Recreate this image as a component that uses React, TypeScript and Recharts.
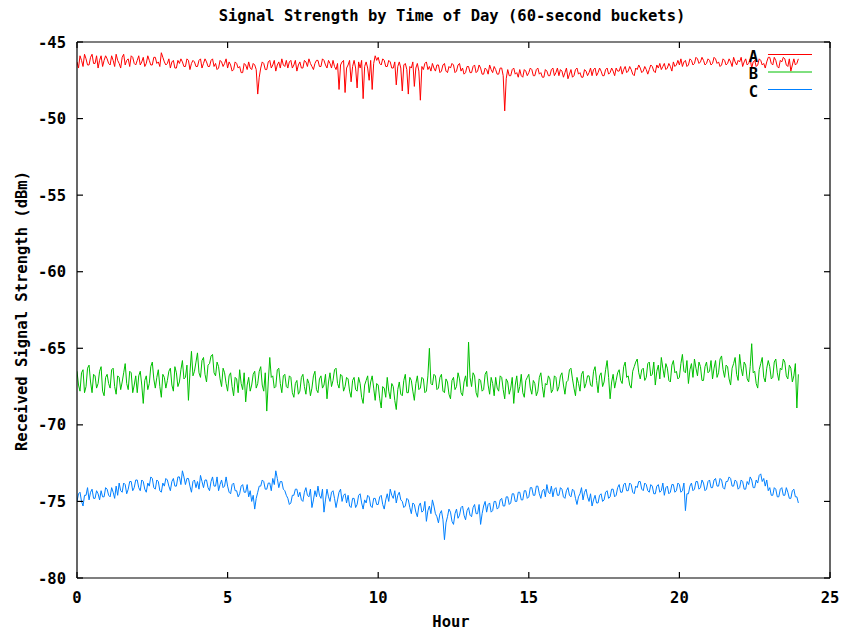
import { LineChart, Line, XAxis, YAxis, Legend } from 'recharts';

// one reading every 0.05 h (3 min)
const STEP_HOURS = 0.05;

const SERIES_A = [
  -46.3, -46.7, -45.9, -46.2, -46.6, -45.8, -46.1, -46.5, -46.5, -46.0, -45.8, -46.4, -46.4, -45.9, -46.7, -46.2, -45.9, -46.6, -46.2, -45.9,
  -46.1, -46.4, -46.5, -45.9, -46.2, -46.6, -45.8, -46.2, -46.4, -46.7, -46.0, -45.8, -46.5, -46.2, -46.1, -46.6, -45.9, -46.0, -46.4, -46.5,
  -46.2, -45.9, -46.5, -46.3, -46.0, -46.6, -46.4, -45.9, -46.2, -46.5, -46.5, -46.0, -46.0, -46.4, -46.3, -46.6, -45.7, -46.0, -46.3, -46.5,
  -46.4, -46.1, -46.7, -46.3, -46.2, -46.7, -46.7, -46.2, -46.4, -46.1, -46.3, -46.6, -46.6, -46.1, -46.2, -46.8, -46.4, -46.2, -46.3, -46.6,
  -46.6, -46.2, -46.1, -46.7, -46.4, -46.1, -46.3, -46.6, -46.6, -46.2, -46.1, -46.6, -46.4, -46.8, -46.7, -46.2, -46.3, -46.6, -46.4, -46.1,
  -46.7, -46.3, -46.5, -46.9, -46.8, -46.3, -46.4, -46.7, -46.6, -47.0, -47.0, -46.4, -46.5, -46.8, -46.3, -46.7, -46.8, -46.4, -46.5, -46.8,
  -48.4, -47.3, -46.7, -46.3, -46.4, -46.8, -46.8, -46.3, -46.2, -46.7, -46.5, -46.2, -46.9, -46.5, -46.3, -46.7, -46.1, -46.5, -46.6, -46.2,
  -46.7, -46.3, -46.2, -46.7, -46.5, -46.2, -46.9, -46.5, -46.3, -46.7, -46.7, -46.2, -46.3, -46.6, -46.1, -46.4, -46.6, -46.8, -46.4, -46.2,
  -46.2, -46.6, -46.6, -46.1, -46.2, -46.5, -46.7, -46.2, -46.4, -46.7, -46.2, -46.6, -46.8, -46.4, -48.1, -46.5, -46.3, -46.2, -48.3, -46.7,
  -46.5, -46.2, -47.6, -46.6, -46.2, -46.7, -48.0, -46.3, -46.7, -46.2, -48.7, -46.6, -46.3, -46.7, -47.5, -46.2, -48.1, -46.4, -45.9, -46.2,
  -46.0, -46.4, -46.5, -46.1, -46.2, -46.6, -46.6, -46.2, -46.3, -46.7, -46.7, -46.3, -47.8, -46.6, -46.3, -46.7, -48.2, -46.5, -46.4, -46.8,
  -48.4, -46.6, -46.7, -46.3, -47.9, -46.7, -46.4, -46.9, -48.8, -46.6, -46.8, -46.4, -46.3, -46.8, -46.6, -46.9, -46.4, -46.7, -46.9, -46.5,
  -46.5, -47.0, -46.9, -46.5, -46.4, -46.9, -47.0, -46.6, -46.7, -46.4, -46.5, -47.0, -46.9, -46.5, -46.4, -46.9, -46.7, -47.1, -47.0, -46.6,
  -46.6, -47.0, -47.0, -46.6, -46.5, -47.0, -46.9, -46.5, -46.7, -47.1, -47.1, -46.7, -46.8, -47.1, -46.5, -46.8, -47.0, -46.6, -46.8, -47.1,
  -47.1, -46.7, -46.7, -47.2, -49.5, -47.4, -46.8, -47.2, -47.2, -46.8, -46.7, -47.1, -47.0, -47.3, -46.8, -47.2, -47.3, -46.8, -46.9, -47.2,
  -47.0, -46.7, -46.8, -47.2, -47.2, -46.8, -46.7, -47.1, -47.0, -47.3, -47.3, -46.8, -46.9, -47.2, -47.2, -46.8, -46.7, -47.2, -47.0, -46.7,
  -47.2, -46.8, -46.9, -47.3, -47.0, -46.7, -47.4, -47.1, -46.8, -47.3, -47.2, -46.8, -46.7, -47.1, -47.0, -47.3, -47.3, -46.8, -46.9, -47.2,
  -47.0, -46.7, -47.2, -46.8, -46.7, -47.2, -47.0, -46.7, -46.9, -47.2, -47.2, -46.8, -46.7, -47.1, -47.0, -46.7, -46.9, -47.2, -46.7, -46.9,
  -46.9, -46.6, -47.1, -46.8, -46.6, -47.0, -46.9, -46.6, -46.8, -47.1, -47.2, -46.7, -46.8, -46.5, -46.7, -47.0, -46.9, -46.6, -46.8, -47.1,
  -46.8, -46.5, -46.6, -46.9, -47.0, -46.5, -46.7, -46.4, -46.8, -46.6, -46.4, -46.8, -46.7, -46.4, -46.6, -46.9, -46.3, -46.6, -46.5, -46.2,
  -46.5, -46.1, -46.6, -46.3, -46.2, -46.6, -46.5, -46.1, -46.2, -46.5, -46.4, -46.0, -46.1, -46.4, -46.3, -46.0, -46.2, -46.5, -46.4, -46.1,
  -46.2, -46.5, -46.4, -46.0, -46.1, -46.4, -46.3, -46.6, -46.5, -46.1, -46.2, -46.5, -46.4, -46.1, -46.3, -46.6, -46.0, -46.3, -46.5, -46.2,
  -46.3, -46.0, -46.6, -46.3, -46.1, -46.5, -46.4, -46.1, -46.7, -46.3, -46.2, -46.6, -46.5, -46.1, -46.2, -46.5, -46.4, -46.7, -46.3, -46.0,
  -46.0, -46.4, -46.5, -46.0, -46.2, -46.6, -46.7, -46.2, -46.3, -46.0, -46.1, -46.5, -46.6, -46.1, -46.9, -46.5, -46.1, -46.5, -46.4, -46.1,
];

const SERIES_B = [
  -66.5, -67.4, -67.8, -66.6, -66.4, -67.9, -67.5, -66.3, -66.1, -67.2, -67.9, -66.7, -66.8, -67.6, -67.3, -66.5, -66.2, -67.8, -68.1, -66.9,
  -66.7, -67.3, -67.6, -66.4, -66.3, -67.5, -68.0, -66.8, -66.9, -67.7, -67.2, -66.6, -66.0, -67.3, -67.7, -66.5, -66.6, -67.9, -67.4, -66.8,
  -67.9, -66.8, -66.5, -67.4, -68.6, -67.1, -66.8, -67.7, -67.3, -66.2, -65.9, -67.0, -67.6, -66.9, -66.4, -67.5, -68.2, -66.7, -66.9, -67.6,
  -67.1, -66.5, -66.3, -67.4, -67.8, -66.2, -66.6, -67.5, -67.2, -66.4, -65.8, -67.0, -66.9, -66.1, -68.4, -66.6, -65.2, -66.8, -66.5, -65.9,
  -65.3, -66.6, -66.9, -65.8, -65.6, -66.7, -67.2, -66.1, -66.0, -65.5, -65.4, -66.6, -66.8, -65.9, -66.2, -67.0, -67.5, -66.3, -66.6, -67.3,
  -67.8, -66.8, -66.6, -67.5, -68.1, -66.9, -67.0, -67.9, -66.4, -67.3, -67.7, -66.6, -68.5, -67.4, -66.9, -67.8, -67.4, -66.7, -66.5, -67.6,
  -67.3, -66.5, -66.2, -67.4, -67.8, -66.6, -69.1, -67.2, -65.6, -66.9, -66.8, -67.6, -67.5, -66.4, -66.3, -67.3, -67.9, -66.8, -66.7, -67.5,
  -67.6, -66.8, -66.9, -67.9, -68.2, -67.3, -67.1, -68.0, -67.8, -66.9, -66.7, -67.5, -68.0, -67.0, -67.3, -68.1, -67.6, -66.8, -66.5, -67.7,
  -67.9, -67.0, -66.8, -67.6, -67.4, -66.7, -68.3, -67.2, -66.6, -67.5, -67.1, -66.4, -66.3, -67.3, -67.6, -66.7, -66.8, -67.8, -67.5, -66.9,
  -67.0, -67.8, -68.2, -67.1, -66.9, -67.7, -67.8, -66.9, -67.3, -68.2, -68.6, -67.4, -67.1, -66.8, -67.9, -67.2, -66.8, -67.6, -68.4, -67.3,
  -67.4, -68.3, -68.9, -67.5, -67.6, -68.2, -66.9, -67.8, -68.3, -67.3, -67.5, -68.4, -69.0, -67.7, -67.2, -68.0, -68.1, -67.1, -66.7, -67.9,
  -67.9, -66.9, -67.1, -67.8, -68.4, -67.3, -66.8, -67.7, -67.6, -66.9, -67.0, -67.9, -67.8, -66.8, -65.0, -67.3, -67.4, -66.7, -66.8, -67.7,
  -67.6, -66.9, -66.7, -67.8, -67.9, -67.0, -67.2, -68.0, -68.3, -67.1, -66.9, -67.7, -67.5, -66.6, -67.0, -67.9, -68.1, -67.2, -66.8, -67.5,
  -64.6, -66.9, -67.5, -66.6, -66.8, -67.9, -68.2, -67.0, -67.1, -67.8, -67.7, -66.7, -66.5, -67.4, -68.0, -66.9, -67.3, -68.1, -66.9, -67.6,
  -67.8, -66.8, -66.9, -67.7, -68.3, -67.0, -67.2, -68.0, -67.6, -66.9, -68.6, -67.4, -66.8, -67.9, -67.5, -66.7, -67.9, -68.2, -67.1, -66.9,
  -66.7, -67.6, -68.0, -67.1, -67.3, -68.1, -67.8, -66.9, -66.6, -67.5, -68.2, -67.3, -67.4, -66.8, -67.0, -67.9, -67.7, -66.8, -66.9, -67.8,
  -67.5, -66.8, -66.6, -67.4, -68.0, -67.2, -67.1, -66.4, -66.3, -67.0, -67.6, -68.1, -66.9, -67.3, -67.8, -66.7, -66.5, -67.6, -67.3, -66.8,
  -66.8, -67.4, -67.5, -66.5, -66.2, -67.1, -67.9, -66.8, -66.6, -67.5, -67.2, -66.4, -65.8, -66.9, -68.3, -67.2, -66.7, -67.6, -67.1, -66.6,
  -66.4, -67.1, -67.3, -66.2, -65.9, -66.9, -66.8, -67.4, -67.6, -66.5, -66.2, -65.9, -65.7, -66.6, -67.0, -66.4, -66.3, -67.1, -66.9, -66.0,
  -65.9, -66.8, -66.7, -65.9, -67.4, -66.5, -66.1, -67.0, -65.6, -66.3, -66.9, -66.0, -66.3, -67.1, -67.2, -66.1, -65.8, -66.6, -66.5, -67.0,
  -66.9, -66.0, -65.4, -66.5, -66.6, -65.8, -67.3, -66.4, -66.0, -66.9, -65.7, -66.3, -66.8, -65.9, -66.2, -67.1, -67.1, -66.2, -65.9, -66.6,
  -66.5, -65.8, -67.0, -66.3, -65.8, -66.9, -66.6, -65.7, -65.5, -66.4, -66.9, -66.1, -66.2, -67.0, -67.4, -66.3, -66.0, -65.6, -66.7, -67.1,
  -65.4, -66.3, -66.8, -65.9, -66.1, -67.0, -67.2, -66.2, -64.7, -66.6, -66.5, -67.3, -67.6, -66.4, -66.0, -65.6, -66.9, -67.2, -66.3, -65.8,
  -66.2, -67.0, -66.9, -65.9, -65.7, -66.6, -67.1, -66.3, -66.4, -65.7, -65.9, -66.8, -67.0, -66.1, -66.3, -67.2, -66.8, -66.0, -68.9, -66.7,
];

const SERIES_C = [
  -75.0, -74.5, -74.4, -75.0, -75.3, -74.6, -74.6, -74.1, -74.9, -74.4, -74.2, -74.8, -74.8, -74.3, -74.5, -74.9, -74.3, -74.7, -74.7, -74.1,
  -74.2, -74.6, -74.7, -74.1, -74.4, -74.8, -74.0, -74.6, -73.8, -74.3, -74.4, -73.8, -73.9, -74.5, -74.2, -73.7, -73.7, -74.3, -74.1, -73.6,
  -73.6, -74.1, -74.3, -73.6, -73.7, -74.2, -74.4, -73.8, -74.0, -73.4, -73.5, -74.1, -74.2, -73.6, -73.7, -74.3, -74.4, -73.8, -74.0, -73.5,
  -73.6, -74.0, -74.3, -73.7, -73.5, -74.0, -74.0, -73.4, -73.4, -73.9, -73.0, -73.4, -73.9, -73.5, -73.5, -74.0, -74.4, -73.7, -73.6, -74.1,
  -73.7, -74.2, -73.3, -73.7, -74.1, -73.6, -73.6, -74.1, -74.3, -73.7, -73.4, -74.0, -74.0, -73.4, -74.3, -73.9, -73.6, -74.1, -74.0, -73.4,
  -74.0, -74.4, -74.5, -73.9, -73.8, -74.3, -74.3, -74.7, -74.5, -74.0, -73.9, -74.4, -74.4, -73.9, -74.7, -74.3, -75.0, -74.6, -75.5, -74.8,
  -74.4, -74.0, -74.0, -73.6, -73.7, -74.2, -74.2, -73.8, -73.8, -74.3, -73.5, -73.9, -73.0, -73.5, -74.1, -73.7, -73.7, -74.2, -74.3, -74.6,
  -74.8, -75.2, -75.1, -74.6, -74.6, -74.2, -74.2, -74.7, -74.4, -74.9, -75.0, -74.4, -74.1, -74.6, -74.7, -74.2, -75.4, -74.9, -74.3, -74.7,
  -74.0, -74.6, -74.8, -74.2, -75.7, -74.9, -74.2, -74.7, -75.0, -74.4, -74.3, -74.8, -75.4, -74.9, -74.4, -74.2, -75.0, -74.6, -74.5, -75.1,
  -74.6, -75.3, -75.4, -74.8, -74.8, -75.4, -75.2, -74.6, -74.5, -75.1, -75.5, -74.9, -75.1, -74.6, -74.7, -75.3, -75.4, -74.8, -74.8, -75.2,
  -75.2, -74.7, -74.6, -75.2, -75.5, -74.9, -74.5, -75.0, -74.2, -74.6, -74.8, -74.3, -75.1, -74.6, -74.4, -74.9, -75.0, -75.4, -75.3, -74.8,
  -74.9, -75.4, -75.8, -75.1, -75.2, -75.7, -76.0, -75.3, -75.1, -75.7, -75.6, -75.0, -76.3, -75.6, -75.3, -75.8, -74.9, -75.3, -75.8, -76.0,
  -76.4, -75.8, -75.6, -76.2, -77.5, -76.4, -76.0, -75.5, -75.7, -76.3, -76.5, -75.8, -75.5, -76.1, -75.9, -75.4, -75.3, -75.9, -76.2, -75.6,
  -75.4, -75.9, -76.0, -75.4, -75.2, -75.8, -75.8, -75.2, -76.5, -75.8, -75.3, -75.0, -75.7, -75.2, -75.1, -75.7, -75.6, -75.0, -75.0, -75.5,
  -75.4, -74.9, -74.8, -75.3, -75.3, -74.7, -74.7, -75.2, -75.1, -74.5, -74.5, -75.0, -75.0, -74.4, -74.4, -74.9, -74.9, -74.3, -74.3, -74.8,
  -74.7, -74.1, -74.1, -74.6, -74.6, -74.0, -74.0, -74.5, -74.8, -74.3, -74.2, -74.7, -73.9, -74.4, -74.5, -74.0, -74.7, -74.2, -74.1, -74.6,
  -74.6, -74.1, -74.2, -74.7, -74.8, -74.3, -74.1, -74.6, -74.7, -74.2, -74.3, -74.8, -75.2, -74.7, -74.5, -74.1, -74.9, -74.4, -74.2, -74.7,
  -75.0, -74.5, -75.3, -74.9, -74.6, -75.1, -75.1, -74.6, -74.5, -75.0, -74.9, -74.4, -74.3, -74.8, -74.7, -74.2, -74.2, -74.7, -74.6, -74.1,
  -73.9, -74.4, -74.4, -73.9, -73.8, -74.3, -74.3, -73.8, -73.9, -74.4, -74.5, -74.0, -74.1, -73.7, -73.7, -74.2, -74.3, -73.8, -73.9, -74.3,
  -74.4, -73.9, -74.0, -74.5, -74.5, -74.0, -73.9, -74.4, -74.3, -73.8, -74.6, -74.1, -74.0, -74.5, -74.4, -73.9, -73.9, -74.4, -74.3, -73.8,
  -73.9, -74.4, -74.3, -73.8, -75.6, -74.5, -74.5, -74.0, -73.8, -74.3, -74.2, -73.7, -73.7, -74.2, -74.1, -73.6, -73.8, -74.3, -74.2, -73.7,
  -73.6, -74.1, -74.1, -73.6, -73.5, -74.0, -74.0, -73.5, -73.6, -74.1, -74.2, -73.7, -73.7, -73.4, -73.5, -74.0, -74.0, -73.6, -73.7, -74.2,
  -74.1, -73.6, -73.7, -74.2, -74.2, -73.7, -73.9, -73.4, -73.6, -74.1, -74.1, -73.6, -73.8, -73.3, -73.2, -73.7, -73.5, -74.0, -73.6, -74.3,
  -74.1, -74.6, -74.6, -74.1, -74.2, -74.7, -74.7, -74.2, -74.1, -74.6, -74.6, -74.1, -74.4, -74.8, -74.8, -74.3, -74.2, -74.7, -74.7, -75.1,
];

const HOUR_TICKS = [0, 5, 10, 15, 20, 25];
const DBM_TICKS = [-80, -75, -70, -65, -60, -55, -50, -45];

const data = SERIES_A.map((a, i) => ({
  hour: +(i * STEP_HOURS).toFixed(2),
  A: a,
  B: SERIES_B[i],
  C: SERIES_C[i],
}));

const FONT = '"DejaVu Sans Mono", monospace';
const TICK_LEN = 6;
const frame = { stroke: '#000', strokeWidth: 1.2 };

// gnuplot style: tick marks point into the plot, labels sit outside.
// With tickSize=0 / tickMargin=0 the tick props x/y are on the axis line.
const BottomTick = (p: any) => (
  <g>
    <line x1={p.x} x2={p.x} y1={p.y} y2={p.y - TICK_LEN} stroke="#000" strokeWidth={1.2} />
    <text x={p.x} y={p.y + 14} dy="0.71em" textAnchor="middle" fontFamily={FONT} fontWeight="bold" fontSize={15.5} fill="#000">
      {p.payload.value}
    </text>
  </g>
);

const LeftTick = (p: any) => (
  <g>
    <line x1={p.x} x2={p.x + TICK_LEN} y1={p.y} y2={p.y} stroke="#000" strokeWidth={1.2} />
    <text x={p.x - 11} y={p.y} dy="0.36em" textAnchor="end" fontFamily={FONT} fontWeight="bold" fontSize={15.5} fill="#000">
      {p.payload.value}
    </text>
  </g>
);

const TopTick = (p: any) => <line x1={p.x} x2={p.x} y1={p.y} y2={p.y + TICK_LEN} stroke="#000" strokeWidth={1.2} />;
const RightTick = (p: any) => <line x1={p.x} x2={p.x - TICK_LEN} y1={p.y} y2={p.y} stroke="#000" strokeWidth={1.2} />;

const renderLegend = (props: any) => {
  const items = props.payload || [];
  return (
    <svg width={90} height={60}>
      {items.map((it: any, i: number) => (
        <g key={it.value}>
          <text x={18} y={16.5 + i * 17.5} textAnchor="end" fontFamily={FONT} fontWeight="bold" fontSize={15.5} fill="#000">
            {it.value}
          </text>
          <line x1={28} x2={72} y1={9.5 + i * 17.5} y2={9.5 + i * 17.5} stroke={it.color} strokeWidth={1} />
        </g>
      ))}
    </svg>
  );
};

export default function App() {
  return (
    <div style={{ position: 'absolute', left: 0, top: 0, width: 846, height: 633, background: '#fff' }}>
      <LineChart width={846} height={633} data={data} margin={{ top: 41, right: 15, bottom: 0, left: 0 }}>
        <XAxis
          dataKey="hour"
          type="number"
          domain={[0, 25]}
          ticks={HOUR_TICKS}
          interval={0}
          height={55}
          tickSize={0}
          tickMargin={0}
          tickLine={false}
          axisLine={frame}
          tick={BottomTick}
          allowDataOverflow
        />
        <XAxis
          xAxisId="top"
          dataKey="hour"
          orientation="top"
          type="number"
          domain={[0, 25]}
          ticks={HOUR_TICKS}
          interval={0}
          height={1}
          tickSize={0}
          tickMargin={0}
          tickLine={false}
          tick={TopTick}
          axisLine={frame}
          allowDataOverflow
        />
        <YAxis
          type="number"
          domain={[-80, -45]}
          ticks={DBM_TICKS}
          interval={0}
          width={77}
          tickSize={0}
          tickMargin={0}
          tickLine={false}
          axisLine={frame}
          tick={LeftTick}
          allowDataOverflow
        />
        <YAxis
          yAxisId="right"
          orientation="right"
          type="number"
          domain={[-80, -45]}
          ticks={DBM_TICKS}
          interval={0}
          width={1}
          tickSize={0}
          tickMargin={0}
          tickLine={false}
          tick={RightTick}
          axisLine={frame}
          allowDataOverflow
        />
        <Legend
          layout="vertical"
          align="center"
          verticalAlign="middle"
          content={renderLegend}
          wrapperStyle={{ position: 'absolute', left: 740, top: 45, width: 90, height: 60 }}
        />
        <Line type="linear" dataKey="A" name="A" stroke="#ff0000" strokeWidth={1} dot={false} isAnimationActive={false} />
        <Line type="linear" dataKey="B" name="B" stroke="#00c000" strokeWidth={1} dot={false} isAnimationActive={false} />
        <Line type="linear" dataKey="C" name="C" stroke="#0080ff" strokeWidth={1} dot={false} isAnimationActive={false} />
      </LineChart>
      <svg width={846} height={633} style={{ position: 'absolute', left: 0, top: 0, pointerEvents: 'none' }}>
        <g fontFamily={FONT} fontWeight="bold" fontSize={15.5} fill="#000">
          <text x={452} y={21} textAnchor="middle">Signal Strength by Time of Day (60-second buckets)</text>
          <text x={451} y={627} textAnchor="middle">Hour</text>
          <text x={27} y={311} textAnchor="middle" transform="rotate(-90 27 311)">Received Signal Strength (dBm)</text>
        </g>
      </svg>
    </div>
  );
}
